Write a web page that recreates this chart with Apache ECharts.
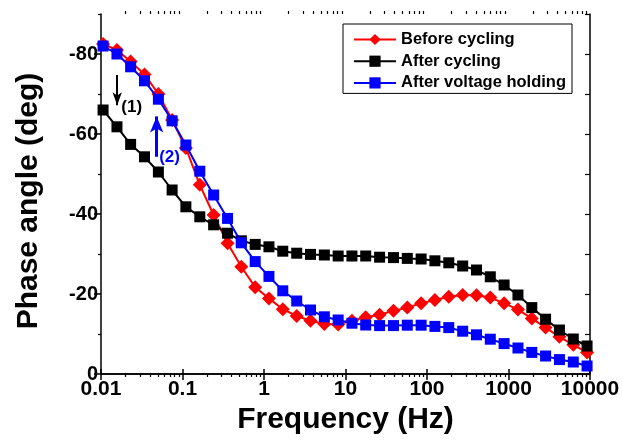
<!DOCTYPE html>
<html>
<head>
<meta charset="utf-8">
<script src="https://cdn.jsdelivr.net/npm/echarts@6/dist/echarts.min.js"></script>
<style>html,body{margin:0;padding:0;background:#fff;}#c{width:622px;height:441px;}</style>
</head>
<body>
<div id="c"></div>
<script>
const freq = [0.0106, 0.0157, 0.0231, 0.0342, 0.0506, 0.0746, 0.110, 0.163, 0.241, 0.357, 0.527, 0.780,
  1.15, 1.70, 2.52, 3.72, 5.50, 8.13, 12.0, 17.7, 26.2, 38.8, 57.3, 84.7,
  125, 185, 274, 405, 598, 883, 1306, 1932, 2851, 4217, 6237, 9204];
const beforeCycling = [-82.5,-81,-78.1,-74.9,-70,-63.5,-56.5,-47.3,-39.75,-32.7,-26.8,-21.7,
  -18.9,-16.2,-14.5,-13.3,-12.5,-12.4,-13.3,-14.2,-14.8,-15.8,-16.6,-17.7,
  -18.5,-19.3,-19.75,-19.7,-19.1,-17.7,-16.1,-13.9,-11.6,-9.3,-7.3,-5.4];
const afterCycling = [-66,-61.8,-57.4,-54.3,-50.5,-46,-41.8,-39.3,-37.3,-35.2,-33.3,-32.4,
  -31.8,-30.7,-30.2,-29.9,-29.75,-29.5,-29.5,-29.5,-29.2,-29.1,-28.9,-28.75,
  -28.3,-27.8,-27,-26,-24.3,-22.25,-19.75,-16.6,-13.7,-11,-8.75,-7];
const afterHolding = [-82,-80,-76.8,-73.3,-68.7,-63.3,-57.25,-50.7,-44.75,-38.9,-32.8,-28.1,
  -24.4,-20.8,-18.25,-16,-14.3,-13.5,-12.7,-12.25,-12.1,-12.1,-12.2,-12.2,
  -11.9,-11.6,-10.7,-9.8,-8.7,-7.6,-6.5,-5.4,-4.5,-3.6,-3.0,-2];
const seriesNames = ['Before cycling', 'After cycling', 'After voltage holding'];
const xMajorTicks = [0.01, 0.1, 1, 10, 100, 1000, 10000];
const xMinorMult = [2, 3, 4, 5, 6, 7, 8, 9];
const yMajorTicks = [0, -20, -40, -60, -80];
const yMinorTicks = [-10, -30, -50, -70, -90];
const yRightTicks = [0, -10, -20, -30, -40, -50, -60, -70, -80, -90];

const xMinorTicks = [];
xMajorTicks.slice(0, -1).forEach(d => xMinorMult.forEach(m => xMinorTicks.push(+(d * m).toPrecision(3))));

const FONT = '"Liberation Sans", Arial, sans-serif';
const pair = (xs, ys) => xs.map((x, i) => [x, ys[i]]);

const chart = echarts.init(document.getElementById('c'), null, {renderer: 'canvas'});
const lineAx = {show: true, lineStyle: {color: '#000', width: 1.5}};
const baseX = {type: 'log', min: 0.01, max: 10000, logBase: 10, splitLine: {show: false}};
const baseY = {type: 'value', min: -90, max: 0, inverse: true, splitLine: {show: false}};

chart.setOption({
  animation: false,
  backgroundColor: '#fff',
  textStyle: {fontFamily: FONT},
  grid: {left: 101, right: 32, top: 14, bottom: 67, containLabel: false, outerBoundsMode: 'none'},
  legend: {
    data: seriesNames,
    orient: 'vertical', left: 343, top: 24,
    itemWidth: 42, itemHeight: 14, itemGap: 4.7,
    padding: [7, 6, 2, 10],
    borderColor: '#000', borderWidth: 1, borderRadius: 0, backgroundColor: '#fff',
    textStyle: {fontFamily: FONT, fontSize: 16.5, fontWeight: 'bold', color: '#000'}
  },
  xAxis: [
    Object.assign({}, baseX, {
      position: 'bottom', axisLine: lineAx,
      name: 'Frequency (Hz)', nameLocation: 'middle', nameGap: 27,
      nameTextStyle: {fontFamily: FONT, fontSize: 30, fontWeight: 'bold', color: '#000'},
      axisTick: {show: true, inside: false, length: 6, lineStyle: {color: '#000', width: 1.5}, customValues: xMajorTicks},
      axisLabel: {show: true, margin: 5, fontFamily: FONT, fontSize: 21, fontWeight: 'bold', color: '#000',
        customValues: xMajorTicks, formatter: v => String(+(+v).toPrecision(6))}
    }),
    Object.assign({}, baseX, {
      position: 'bottom', offset: 0, axisLine: {show: false},
      axisTick: {show: true, inside: false, length: 3, lineStyle: {color: '#000', width: 1.2}, customValues: xMinorTicks},
      axisLabel: {show: false}
    }),
    Object.assign({}, baseX, {
      position: 'top', axisLine: lineAx,
      axisTick: {show: true, inside: false, length: 5, lineStyle: {color: '#000', width: 1.5}, customValues: xMajorTicks},
      axisLabel: {show: false}
    }),
    Object.assign({}, baseX, {
      position: 'top', offset: 0, axisLine: {show: false},
      axisTick: {show: true, inside: false, length: 3, lineStyle: {color: '#000', width: 1.2}, customValues: xMinorTicks},
      axisLabel: {show: false}
    })
  ],
  yAxis: [
    Object.assign({}, baseY, {
      position: 'left', axisLine: lineAx,
      name: 'Phase angle (deg)', nameLocation: 'middle', nameGap: 57, nameRotate: 90,
      nameTextStyle: {fontFamily: FONT, fontSize: 30, fontWeight: 'bold', color: '#000', padding: [0, 14, 0, 0]},
      axisTick: {show: true, inside: false, length: 7, lineStyle: {color: '#000', width: 1.5}, customValues: yMajorTicks},
      axisLabel: {show: true, margin: 3, fontFamily: FONT, fontSize: 20, fontWeight: 'bold', color: '#000',
        customValues: yMajorTicks, formatter: v => String(v)}
    }),
    Object.assign({}, baseY, {
      position: 'left', offset: 0, axisLine: {show: false},
      axisTick: {show: true, inside: false, length: 3, lineStyle: {color: '#000', width: 1.2}, customValues: yMinorTicks},
      axisLabel: {show: false}
    }),
    Object.assign({}, baseY, {
      position: 'right', offset: 0, axisLine: lineAx,
      axisTick: {show: true, inside: true, length: 5, lineStyle: {color: '#000', width: 1.2}, customValues: yRightTicks},
      axisLabel: {show: false}
    })
  ],
  series: [
    {
      name: seriesNames[0], type: 'line', data: pair(freq, beforeCycling),
      symbol: 'diamond', symbolSize: 14, showAllSymbol: true,
      lineStyle: {color: '#ff0000', width: 2}, itemStyle: {color: '#ff0000'}, z: 2
    },
    {
      name: seriesNames[1], type: 'line', data: pair(freq, afterCycling),
      symbol: 'rect', symbolSize: 11, showAllSymbol: true,
      lineStyle: {color: '#000', width: 2}, itemStyle: {color: '#000'}, z: 3,
      markLine: {
        silent: true, animation: false,
        lineStyle: {color: '#000', width: 2, type: 'solid'},
        symbol: ['none', 'arrow'], symbolSize: [7, 13],
        label: {show: false},
        data: [[{coord: [0.0158, -74.75]}, {coord: [0.0158, -67.2]}]]
      },
      markPoint: {
        silent: true, symbol: 'rect', symbolSize: [1, 1], itemStyle: {color: 'rgba(0,0,0,0)'},
        label: {show: true, position: 'inside', formatter: '(1)', fontFamily: FONT, fontSize: 17, fontWeight: 'bold', color: '#000'},
        data: [{coord: [0.0238, -66.6]}]
      }
    },
    {
      name: seriesNames[2], type: 'line', data: pair(freq, afterHolding),
      symbol: 'rect', symbolSize: 11, showAllSymbol: true,
      lineStyle: {color: '#0000ff', width: 2}, itemStyle: {color: '#0000ff'}, z: 4,
      markLine: {
        silent: true, animation: false,
        lineStyle: {color: '#0000ff', width: 3, type: 'solid'},
        symbol: ['none', 'arrow'], symbolSize: [10, 16],
        label: {show: false},
        data: [[{coord: [0.0482, -54.3]}, {coord: [0.0482, -64.4]}]]
      },
      markPoint: {
        silent: true, symbol: 'rect', symbolSize: [1, 1], itemStyle: {color: 'rgba(0,0,0,0)'},
        label: {show: true, position: 'inside', formatter: '(2)', fontFamily: FONT, fontSize: 17, fontWeight: 'bold', color: '#0000ff'},
        data: [{coord: [0.0693, -54.25]}]
      }
    }
  ]
});
</script>
</body>
</html>
